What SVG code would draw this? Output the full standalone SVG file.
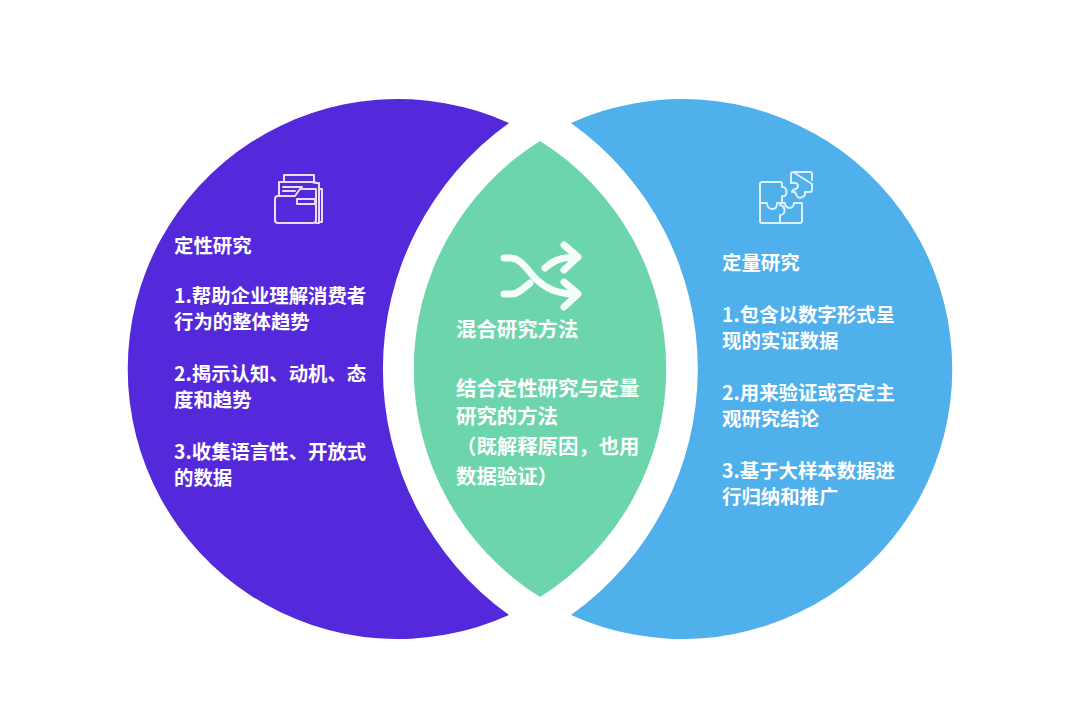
<svg xmlns="http://www.w3.org/2000/svg" width="1080" height="707" viewBox="0 0 1080 707">
<style>
.t{font-family:"Noto Sans CJK SC","Liberation Sans",sans-serif;font-size:19.4px;font-weight:700;fill:#fff}
.c{font-size:20.4px}
.ic{fill:none;stroke:#e9def9;stroke-width:2;stroke-linejoin:round;stroke-linecap:round}
.ib{fill:none;stroke:#dff1fc;stroke-width:2;stroke-linejoin:round;stroke-linecap:round}
.sh{fill:none;stroke:#f4fdf9;stroke-width:7;stroke-linecap:round;stroke-linejoin:round}
</style>
<rect width="1080" height="707" fill="#fff"/>
<g id="qualitative">
<path d="M509 123A270 270 0 1 0 509 615A303 303 0 0 1 509 123Z" fill="#5429dc"/>
<g id="folder-icon">
<path class="ic" d="M284 182V175H314V183"/>
<path class="ic" d="M279 195V182H315"/>
<path class="ic" d="M283 187H302M283 191H295"/>
<path class="ic" d="M278 223H313Q316 223 316 220V189H300L295 196H278Q275 196 275 199V220Q275 223 278 223Z"/>
<path class="ic" d="M316 183H319V223H316M319 189H322V222H319"/>
<rect class="ic" x="297" y="199" width="18" height="5"/>
</g>
<text class="t" x="174" y="252.500">定性研究</text>
<text class="t" x="174" y="303">1.帮助企业理解消费者</text>
<text class="t" x="174" y="329">行为的整体趋势</text>
<text class="t" x="174" y="381">2.揭示认知、动机、态</text>
<text class="t" x="174" y="407">度和趋势</text>
<text class="t" x="174" y="459">3.收集语言性、开放式</text>
<text class="t" x="174" y="485">的数据</text>
</g>
<g id="mixed">
<path d="M540 141A269 269 0 0 1 540 597A269 269 0 0 1 540 141Z" fill="#6dd5ab"/>
<g id="shuffle-icon">
<path class="sh" d="M504 258H510C522 258 528 272 537 280C546 288 556 294 576 294"/>
<path class="sh" d="M504 294H512C518 294 524 288 530 283"/>
<path class="sh" d="M545 268C551 263 558 257 576 257"/>
<path class="sh" d="M564 245L578 257L564 270"/>
<path class="sh" d="M564 282L578 294L564 307"/>
</g>
<text class="t c" x="456" y="337">混合研究方法</text>
<text class="t c" x="456" y="396">结合定性研究与定量</text>
<text class="t c" x="456" y="424">研究的方法</text>
<text class="t c" x="456" y="454">（既解释原因，也用</text>
<text class="t c" x="456" y="484">数据验证）</text>
</g>
<g id="quantitative">
<path d="M571 123A270 270 0 1 1 571 615A302 302 0 0 0 571 123Z" fill="#4fb0ec"/>
<g id="puzzle-icon">
<path class="ib" d="M782 203V196C788 198 788 186 782 187V184Q782 182 780 182H762Q760 182 760 184V221Q760 223 762 223H800Q802 223 802 221V203H794C794 209 785 210 785 203H777C778 211 767 211 767 203H760"/>
<path class="ib" d="M780 223V215C786 215 786 206 780 205V203"/>
<path class="ib" d="M793 172H810Q812 172 812 174V180M812 184V190Q812 192 810 192H805C806 198 798 199 797 196L795 192H792L793 190C800 188 800 182 791 183V174Q791 172 793 172Z"/>
</g>
<text class="t" x="722" y="270">定量研究</text>
<text class="t" x="722" y="322">1.包含以数字形式呈</text>
<text class="t" x="722" y="348">现的实证数据</text>
<text class="t" x="722" y="400">2.用来验证或否定主</text>
<text class="t" x="722" y="426">观研究结论</text>
<text class="t" x="722" y="478">3.基于大样本数据进</text>
<text class="t" x="722" y="504">行归纳和推广</text>
</g>
<g id="connectors"/>
</svg>
